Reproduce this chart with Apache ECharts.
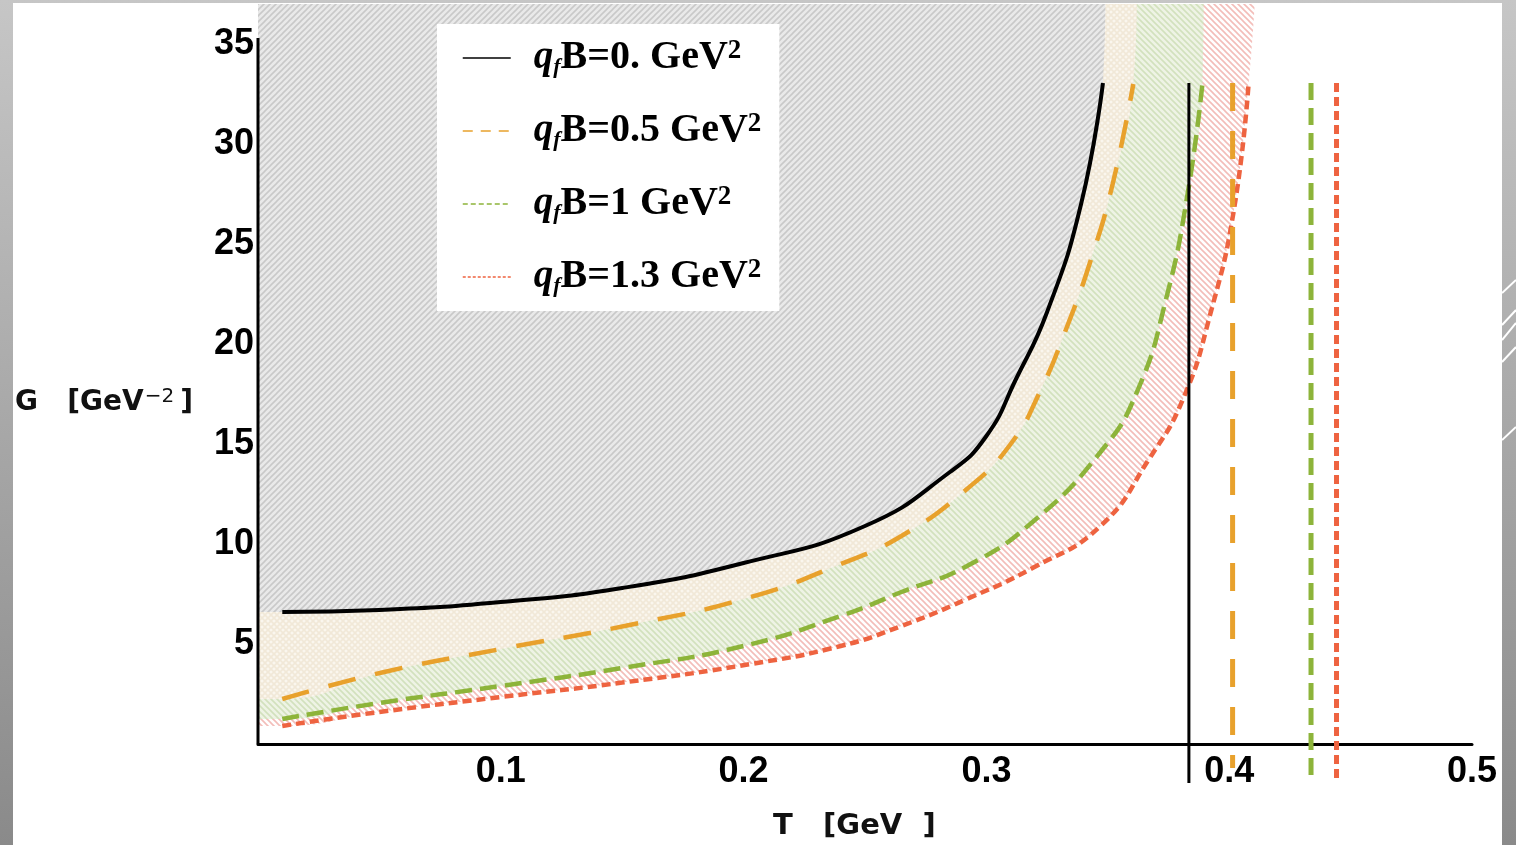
<!DOCTYPE html>
<html>
<head>
<meta charset="utf-8">
<script src="https://cdn.jsdelivr.net/npm/echarts@6/dist/echarts.min.js"></script>
<style>
html,body{margin:0;padding:0;}
body{width:1516px;height:845px;overflow:hidden;position:relative;background:linear-gradient(to bottom,#c6c6c6,#8a8a8a);}
#chart{position:absolute;left:13px;top:3px;width:1489px;height:842px;background:#fff;}
#deco{position:absolute;left:1502px;top:0;width:14px;height:845px;}
</style>
</head>
<body>
<div id="chart"></div>
<svg id="deco" width="14" height="845">
  <g stroke="#fff" stroke-width="2">
    <line x1="0" y1="293" x2="14" y2="280"/>
    <line x1="0" y1="325" x2="14" y2="310"/>
    <line x1="0" y1="340" x2="14" y2="323"/>
    <line x1="0" y1="362" x2="14" y2="347"/>
    <line x1="0" y1="440" x2="14" y2="427"/>
  </g>
</svg>
<script>
// G(T) curves, T in GeV, G in GeV^-2
var curveB0 = [[0.01,6.6],[0.05,6.7],[0.1,7.1],[0.15,7.8],[0.2,9.05],[0.25,10.9],[0.285,13.6],[0.3,15.4],[0.312,18.2],[0.325,21.6],[0.339,27.0],[0.348,33.05]];
var curveB05 = [[0.01,2.25],[0.052,3.6],[0.1,4.75],[0.153,5.95],[0.203,7.35],[0.24,9.0],[0.265,10.4],[0.292,12.75],[0.31,15.0],[0.322,17.6],[0.333,20.8],[0.343,24.2],[0.352,28.0],[0.3605,33.0]];
var curveB1 = [[0.01,1.25],[0.05,2.05],[0.1,2.9],[0.15,3.8],[0.2,4.9],[0.24,6.4],[0.265,7.6],[0.292,8.9],[0.319,11.1],[0.347,14.6],[0.362,17.6],[0.374,22.25],[0.383,27.6],[0.389,33.05]];
var curveB13 = [[0.01,0.9],[0.05,1.6],[0.1,2.35],[0.15,3.07],[0.203,4.0],[0.24,4.9],[0.265,5.9],[0.292,7.25],[0.319,8.8],[0.347,10.9],[0.367,14.25],[0.381,17.25],[0.392,21.4],[0.402,26.75],[0.408,33.05]];

// vertical lines (critical T) for each field
var asymT = [0.3834, 0.4014, 0.4337, 0.4442];
var asymTop = 33.05;
var asymBottom = [-1.95, -1.2, -1.95, -1.95];

// right edge of each shaded region at the top of the plot
var regionTopT = [0.349, 0.362, 0.3895, 0.4105];

var fieldLabels = ['0.', '0.5', '1', '1.3'];
var names = fieldLabels.map(function(v){ return 'qfB=' + v + ' GeV2'; });
var curves = [curveB0, curveB05, curveB1, curveB13];
var colors = ['#000000', '#e8a12c', '#8db43a', '#ee6340'];
var dashes = ['solid', [28, 20], [17, 8], [9, 5]];
var widths = [4, 4.5, 4.5, 4.5];
var legendDash = ['solid', [10, 8], [5, 3], [3, 2]];

var yMax = 37;
var yAxisSpan = [0, 35.3];

function hatch(bg, fg, dir, cross){
	var s = 6;
	var c = document.createElement('canvas');
	c.width = s; c.height = s;
	var ctx = c.getContext('2d');
	ctx.fillStyle = bg;
	ctx.fillRect(0, 0, s, s);
	ctx.strokeStyle = fg;
	ctx.lineWidth = 1.6;
	function diag(d){
		ctx.beginPath();
		if(d === '/'){
			ctx.moveTo(-1, s+1); ctx.lineTo(s+1, -1);
			ctx.moveTo(-1, 1); ctx.lineTo(1, -1);
			ctx.moveTo(s-1, s+1); ctx.lineTo(s+1, s-1);
		}else{
			ctx.moveTo(-1, -1); ctx.lineTo(s+1, s+1);
			ctx.moveTo(-1, s-1); ctx.lineTo(1, s+1);
			ctx.moveTo(s-1, -1); ctx.lineTo(s+1, 1);
		}
		ctx.stroke();
	}
	diag(dir);
	if(cross) diag(dir === '/' ? '\\' : '/');
	return {image: c, repeat: 'repeat'};
}

var fills = [
	hatch('#e9e9e9', '#c9c9c9', '/', false),
	hatch('#faf6ee', '#f1e8d8', '/', true),
	hatch('#eef3e5', '#d2e1bd', '\\', false),
	hatch('#ffffff', '#f3bdb9', '\\', false)
];

var smoothness = 0.5;
var series = [];
// shaded regions, drawn from red up to black so each covers the one below
for(var i = 3; i >= 0; i--){
	var d = [[0, curves[i][0][1]]].concat(curves[i]).concat([[regionTopT[i], yMax]]);
	series.push({
		type: 'line', name: 'region' + i, data: d, z: 1, silent: true,
		symbol: 'none', smooth: smoothness,
		lineStyle: {width: 0},
		areaStyle: {color: fills[i], origin: 'end', opacity: 1}
	});
}
for(var i = 0; i < 4; i++){
	series.push({
		type: 'line', name: names[i], data: curves[i], z: 3,
		symbol: 'none', smooth: smoothness,
		lineStyle: {color: colors[i], width: widths[i], type: dashes[i]},
		itemStyle: {color: colors[i]}
	});
}
for(var i = 0; i < 4; i++){
	series.push({
		type: 'line', name: 'tc' + i, z: 3, clip: false, silent: true,
		data: [[asymT[i], asymTop], [asymT[i], asymBottom[i]]],
		symbol: 'none',
		lineStyle: {color: colors[i], width: i === 0 ? 3 : 5, type: dashes[i]}
	});
}
series.push({
	type: 'line', name: 'yaxis', z: 4, silent: true, symbol: 'none',
	data: [[0, yAxisSpan[0]], [0, yAxisSpan[1]]],
	lineStyle: {color: '#000', width: 3}
});

var tickFont = {fontFamily: 'Liberation Sans', fontWeight: 'bold', fontSize: 36, color: '#000'};
var serif = 'Liberation Serif';

var chart = echarts.init(document.getElementById('chart'));
chart.setOption({
	animation: false,
	backgroundColor: '#fff',
	grid: {left: 245, right: 30, top: 1, bottom: 101},
	title: [{
		text: 'G   [GeV{s|−2}]',
		left: 2, top: 384, padding: 0,
		textStyle: {
			fontFamily: 'DejaVu Sans', fontWeight: 'bold', fontSize: 28, color: '#111',
			rich: {s: {fontFamily: 'DejaVu Sans', fontSize: 20, fontWeight: 'normal', verticalAlign: 'top', padding: [0, 6, 12, 1]}}
		}
	}, {
		text: 'T   [GeV  ]',
		left: 760, top: 809, padding: 0,
		textStyle: {fontFamily: 'DejaVu Sans', fontWeight: 'bold', fontSize: 29, color: '#111'}
	}],
	legend: {
		orient: 'vertical', left: 424, top: 21,
		backgroundColor: '#fff',
		padding: [14, 18, 14, 25],
		itemWidth: 48, itemHeight: 14, itemGap: 33,
		selectedMode: false,
		data: names.map(function(n, i){
			return {
				name: n,
				lineStyle: {width: 1.5, type: legendDash[i], color: colors[i]},
				itemStyle: {color: 'rgba(0,0,0,0)', borderColor: 'rgba(0,0,0,0)', borderWidth: 0}
			};
		}),
		formatter: function(name){
			var v = fieldLabels[names.indexOf(name)];
			return '{q|q}{f|f}{b|B=' + v + ' GeV}{s|2}';
		},
		textStyle: {
			fontFamily: serif, fontWeight: 'bold', fontSize: 39, color: '#000',
			rich: {
				q: {fontFamily: serif, fontStyle: 'italic', fontWeight: 'bold', fontSize: 39, padding: [0, 0, 0, 18]},
				f: {fontFamily: serif, fontStyle: 'italic', fontWeight: 'bold', fontSize: 22, verticalAlign: 'bottom'},
				b: {fontFamily: serif, fontWeight: 'bold', fontSize: 40},
				s: {fontFamily: serif, fontWeight: 'bold', fontSize: 27, verticalAlign: 'top'}
			}
		}
	},
	xAxis: {
		type: 'value', min: 0, max: 0.5, interval: 0.1,
		axisLine: {lineStyle: {color: '#000', width: 3}},
		axisTick: {show: false},
		splitLine: {show: false},
		axisLabel: Object.assign({showMinLabel: false, margin: 10}, tickFont)
	},
	yAxis: {
		type: 'value', min: 0, max: yMax, interval: 5,
		axisLine: {show: false},
		axisTick: {show: false},
		splitLine: {show: false},
		axisLabel: Object.assign({showMinLabel: false, showMaxLabel: false, margin: 4}, tickFont)
	},
	series: series
});
</script>
</body>
</html>
